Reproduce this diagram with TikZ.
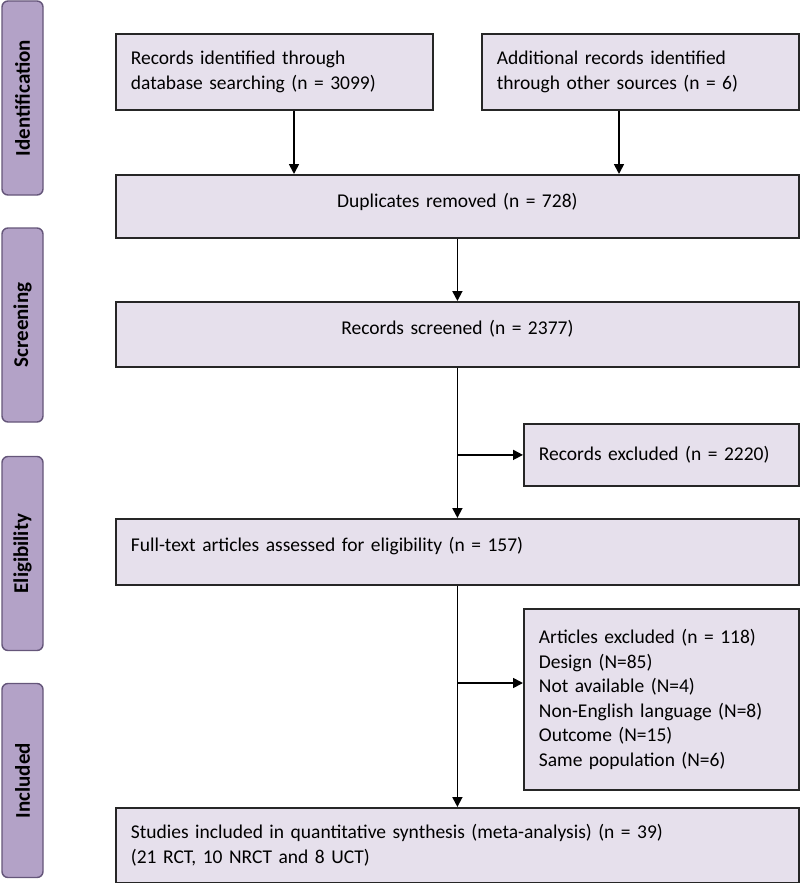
\documentclass[tikz,border=0pt]{standalone}
\usepackage{fontspec}
\setmainfont{Carlito}
\usetikzlibrary{arrows.meta,calc}
\definecolor{boxfill}{HTML}{E6E0EC}
\definecolor{sidefill}{HTML}{B3A2C7}
\definecolor{sidedraw}{HTML}{65567A}
\begin{document}
\begin{tikzpicture}[x=1pt,y=-1pt,
  box/.style={draw=black!85, line width=1.8pt, fill=boxfill, anchor=north west,
    inner xsep=15pt, inner ysep=0pt, font=\fontsize{19.5}{24.5}\selectfont, align=left},
  cbox/.style={box, align=center},
  side/.style={draw=sidedraw, line width=1.4pt, fill=sidefill, rounded corners=6pt,
    rotate=90, minimum width=194pt, minimum height=41pt, inner sep=0pt,
    font=\fontsize{21}{24}\selectfont\bfseries},
  arr/.style={line width=1.7pt, -{Triangle[length=10pt,width=10pt]}}
]
\useasboundingbox (0,0) rectangle (800,883);

% side bars
\node[side] (sid) at (22.5,98) {Identification};
\node[side] (sscr) at (22.5,325) {Screening};
\node[side] (selg) at (22.5,553.5) {Eligibility};
\node[side] (sinc) at (22.5,780.5) {Included};

% boxes
\node[box, text width=287pt, minimum height=76pt] (b1) at (115,33)
  {Records identified through\\database searching (n = 3099)};
\node[box, text width=287pt, minimum height=76pt] (b2) at (481,33)
  {Additional records identified\\through other sources (n = 6)};
\node[cbox, text width=653pt, minimum height=63pt] (dup) at (115,174)
  {\raisebox{4pt}[\height][\depth]{Duplicates removed (n = 728)}};
\node[cbox, text width=653pt, minimum height=65pt] (scr) at (115,301)
  {\raisebox{6pt}[\height][\depth]{Records screened (n = 2377)}};
\node[box, text width=245pt, minimum height=62pt] (exc1) at (523,423)
  {Records excluded (n = 2220)};
\node[box, text width=653pt, minimum height=66pt] (full) at (115,518)
  {\raisebox{6pt}[\height][\depth]{Full-text articles assessed for eligibility (n = 157)}};
\node[box, text width=245pt, minimum height=181pt] (exc2) at (523,608)
  {Articles excluded (n = 118)\\Design (N=85)\\Not available (N=4)\\Non-English language (N=8)\\Outcome (N=15)\\Same population (N=6)};
\node[box, text width=653pt, minimum height=75pt] (inc) at (115,807)
  {Studies included in quantitative synthesis (meta-analysis) (n = 39)\\(21 RCT, 10 NRCT and 8 UCT)};

% connectors
\draw[arr] ([xshift=179pt]b1.south west) -- ([xshift=179pt]b1.south west |- dup.north);
\draw[arr] ([xshift=138pt]b2.south west) -- ([xshift=138pt]b2.south west |- dup.north);
\draw[arr] (dup.south) -- (scr.north);
\draw[arr] (scr.south) -- (full.north);
\coordinate (j1) at (scr.south |- exc1.west);
\draw[arr] (j1) -- (exc1.west);
\draw[arr] (full.south) -- (inc.north);
\coordinate (j2) at ($(full.south |- exc2.north)+(0,75)$);
\draw[arr] (j2) -- (j2 -| exc2.west);
\end{tikzpicture}
\end{document}
